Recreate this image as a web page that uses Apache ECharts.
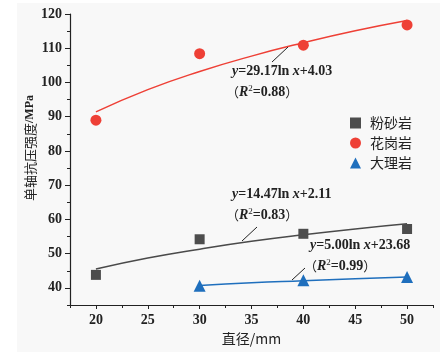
<!DOCTYPE html>
<html>
<head>
<meta charset="utf-8">
<script src="https://cdn.jsdelivr.net/npm/echarts@6/dist/echarts.min.js"></script>
<style>
html,body{margin:0;padding:0;background:#fff;}
#main{width:448px;height:352px;}
</style>
</head>
<body>
<div id="main"></div>
<script>
// 数据
var diam = [20, 30, 40, 50];
var fenSha = [43.8, 54.2, 55.8, 57.2];     // 粉砂岩
var huaGang = [89.0, 108.4, 110.9, 116.8]; // 花岗岩
var daLiDiam = [30, 40, 50];
var daLi = [40.6, 42.2, 43.2];             // 大理岩

// 拟合曲线上读出的点
var fitX = [20, 25, 30, 35, 40, 45, 50];
var fitHua = [91.4, 97.9, 103.2, 107.7, 111.6, 115.1, 118.1];
var fitFen = [45.5, 48.7, 51.3, 53.6, 55.5, 57.2, 58.7];
var fitDaX = [30, 35, 40, 45, 50];
var fitDa = [40.7, 41.5, 42.1, 42.7, 43.2];

var xTicks = [20, 25, 30, 35, 40, 45, 50];
var xMinor = [17.5, 22.5, 27.5, 32.5, 37.5, 42.5, 47.5, 52.5];
var yTicks = [40, 50, 60, 70, 80, 90, 100, 110, 120];
var yMinor = [35, 45, 55, 65, 75, 85, 95, 105, 115];

var names = ['粉砂岩', '花岗岩', '大理岩'];

function pairs(xs, ys) {
  return xs.map(function (x, i) { return [x, ys[i]]; });
}

var chart = echarts.init(document.getElementById('main'), null, {renderer: 'canvas'});

var numFont = "'Liberation Serif', 'Noto Sans CJK SC', serif";
var cnFont = "'Noto Sans CJK SC', sans-serif";

var rich = {
  i: {fontFamily: numFont, fontStyle: 'italic', fontSize: 14, fontWeight: 'bold', fill: '#222'},
  n: {fontFamily: numFont, fontSize: 14, fontWeight: 'bold', fill: '#222'},
  p: {fontFamily: cnFont, fontSize: 13, fill: '#222'},
  s: {fontFamily: numFont, fontSize: 9, fill: '#222', padding: [0, 0, 7, 0]},
  c: {fontFamily: cnFont, fontSize: 13, fill: '#222'},
  u: {fontFamily: numFont, fontSize: 12, fontWeight: 'bold', fill: '#222'}
};

function eqText(x, y, a, b) {
  return {
    type: 'text', left: x, top: y, z: 10,
    style: {text: '{i|y}{n|=' + a + 'ln }{i|x}{n|' + b + '}', rich: rich}
  };
}
function r2Text(x, y, r) {
  return {
    type: 'text', left: x, top: y, z: 10,
    style: {text: '{p|（}{i|R}{s|2}{n|=' + r + '}{p|）}', rich: rich}
  };
}
function leader(x1, y1, x2, y2) {
  return {
    type: 'line', z: 10,
    shape: {x1: x1, y1: y1, x2: x2, y2: y2},
    style: {stroke: '#222', lineWidth: 1}
  };
}

var majorAxisX = {
  type: 'value', min: 17.5, max: 52.5,
  name: '直径/mm', nameLocation: 'middle', nameGap: 25,
  nameTextStyle: {fontFamily: cnFont, fontSize: 14, color: '#222'},
  axisLine: {onZero: false, lineStyle: {color: '#222', width: 1.2}},
  axisTick: {customValues: xTicks, length: 4, lineStyle: {color: '#222'}},
  axisLabel: {customValues: xTicks, fontFamily: numFont, fontSize: 14, color: '#222', fontWeight: 'bold', margin: 8},
  splitLine: {show: false}
};
var minorAxisX = {
  type: 'value', min: 17.5, max: 52.5, position: 'bottom',
  axisLine: {show: false},
  axisTick: {customValues: xMinor, length: 3, lineStyle: {color: '#222'}},
  axisLabel: {show: false},
  splitLine: {show: false}
};
var majorAxisY = {
  type: 'value', min: 35, max: 120,
  axisLine: {show: true, onZero: false, lineStyle: {color: '#222', width: 1.2}},
  axisTick: {show: true, customValues: yTicks, length: 5, lineStyle: {color: '#222'}},
  axisLabel: {customValues: yTicks, fontFamily: numFont, fontSize: 14, color: '#222', fontWeight: 'bold', margin: 8},
  splitLine: {show: false}
};
var minorAxisY = {
  type: 'value', min: 35, max: 120, position: 'left',
  axisLine: {show: false},
  axisTick: {show: true, customValues: yMinor, length: 3, lineStyle: {color: '#222'}},
  axisLabel: {show: false},
  splitLine: {show: false}
};

var option = {
  backgroundColor: '#fff',
  animation: false,
  grid: {left: 70, right: 15, top: 14, bottom: 47},
  xAxis: [majorAxisX, minorAxisX],
  yAxis: [majorAxisY, minorAxisY],
  legend: {
    data: [
      {name: names[0], icon: 'rect'},
      {name: names[1], icon: 'circle'},
      {name: names[2], icon: 'triangle'}
    ],
    orient: 'vertical', left: 345, top: 111,
    itemWidth: 11, itemHeight: 11, itemGap: 6,
    textStyle: {fontFamily: cnFont, fontSize: 14, color: '#222', padding: [0, 0, 0, 4]}
  },
  graphic: [
    {type: 'rect', z: -10, shape: {x: 17, y: 3, width: 423, height: 349}, style: {fill: '#f8f8f8'}},
    {
      type: 'text', x: 30, y: 148, rotation: Math.PI / 2, z: 10,
      style: {text: '{c|单轴抗压强度}{u|/MPa}', rich: rich, align: 'center', verticalAlign: 'middle'}
    },
    eqText(232, 64, '29.17', '+4.03'),
    r2Text(226, 84, '0.88'),
    leader(272, 62, 288, 47),
    eqText(232, 187, '14.47', '+2.11'),
    r2Text(226, 207, '0.83'),
    leader(257, 227, 242, 241),
    eqText(310, 238, '5.00', '+23.68'),
    r2Text(304, 258, '0.99'),
    leader(305, 268, 292, 280)
  ],
  series: [
    {
      type: 'line', data: pairs(fitX, fitHua), smooth: true, symbol: 'none',
      lineStyle: {color: '#ee4036', width: 1.5}, silent: true, z: 1
    },
    {
      type: 'line', data: pairs(fitX, fitFen), smooth: true, symbol: 'none',
      lineStyle: {color: '#4a4a4a', width: 1.5}, silent: true, z: 1
    },
    {
      type: 'line', data: pairs(fitDaX, fitDa), smooth: true, symbol: 'none',
      lineStyle: {color: '#1f6fbd', width: 1.5}, silent: true, z: 1
    },
    {
      name: names[0], type: 'scatter', data: pairs(diam, fenSha),
      symbol: 'rect', symbolSize: 10, itemStyle: {color: '#4d4d4d', opacity: 1}, z: 3
    },
    {
      name: names[1], type: 'scatter', data: pairs(diam, huaGang),
      symbol: 'circle', symbolSize: 11, itemStyle: {color: '#ee4036', opacity: 1}, z: 3
    },
    {
      name: names[2], type: 'scatter', data: pairs(daLiDiam, daLi),
      symbol: 'triangle', symbolSize: 12, itemStyle: {color: '#1f6fbd', opacity: 1}, z: 3
    }
  ]
};

chart.setOption(option);
</script>
</body>
</html>
